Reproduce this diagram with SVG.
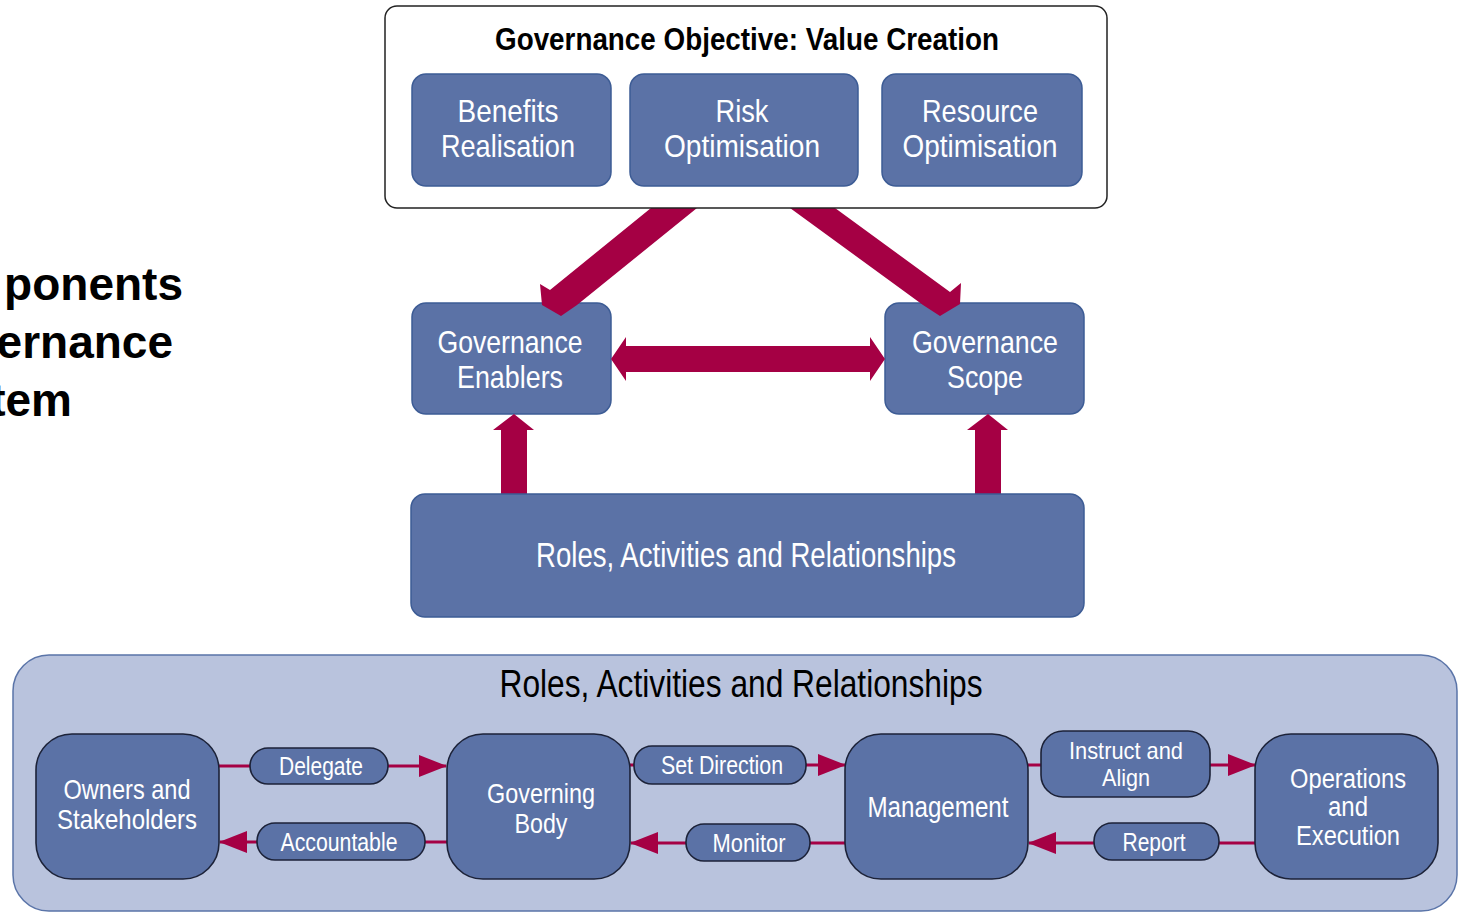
<svg xmlns="http://www.w3.org/2000/svg" width="1462" height="914" viewBox="0 0 1462 914">
<style>
.t{font-family:"Liberation Sans Narrow","Liberation Sans",Arial,sans-serif;text-anchor:middle}
.w{fill:#ffffff}
.k{fill:#000000}
.nodeTop{fill:#5b72a6;stroke:#3d5c95;stroke-width:1.5}
.nodeBot{fill:#5b72a6;stroke:#1c2238;stroke-width:1.6}
.fat{fill:#a50044}
.ln{stroke:#a50044;stroke-width:3;fill:none}
</style>
<defs>
<marker id="ah" markerUnits="userSpaceOnUse" markerWidth="28" markerHeight="24" refX="27" refY="11" orient="auto">
<path d="M0,0 L28,11 L0,22 z" fill="#a50044"/>
</marker>
</defs>
<rect width="1462" height="914" fill="#ffffff"/>

<g id="side-title" font-family="'Liberation Sans',Arial,sans-serif" font-weight="bold" font-size="46" text-anchor="end" fill="#000">
<text x="183" y="300">ponents</text>
<text x="173" y="358">ernance</text>
<text x="72" y="416">tem</text>
</g>

<g id="enablers">
<rect class="nodeTop" x="412" y="303" width="199" height="111" rx="14"/>
<text class="t w" x="510" y="353" font-size="32" textLength="145" lengthAdjust="spacingAndGlyphs">Governance</text>
<text class="t w" x="510" y="388" font-size="32" textLength="106" lengthAdjust="spacingAndGlyphs">Enablers</text>
</g>
<g id="scope">
<rect class="nodeTop" x="885" y="303" width="199" height="111" rx="14"/>
<text class="t w" x="985" y="353" font-size="32" textLength="146" lengthAdjust="spacingAndGlyphs">Governance</text>
<text class="t w" x="985" y="388" font-size="32" textLength="76" lengthAdjust="spacingAndGlyphs">Scope</text>
</g>

<g id="connectors">
<polygon class="fat" points="651,208 697,208 577,305 561,316 542,305 540,284 550,290"/>
<polygon class="fat" points="790,208 835,208 950,292 961,283 960,304 940,316 923,305"/>
<polygon class="fat" points="611,359 626,337 626,346 870,346 870,337 885,359 870,381 870,372 626,372 626,381"/>
<polygon class="fat" points="514,414 534,430 527,430 527,496 501,496 501,430 493,430"/>
<polygon class="fat" points="988,414 1008,430 1001,430 1001,496 975,496 975,430 967,430"/>
</g>

<g id="objective">
<rect x="385" y="6" width="722" height="202" rx="12" fill="#ffffff" stroke="#222" stroke-width="1.5"/>
<text class="t k" x="747" y="50" font-size="32" font-weight="bold" textLength="504" lengthAdjust="spacingAndGlyphs">Governance Objective:  Value Creation</text>
</g>
<g id="benefits">
<rect class="nodeTop" x="412" y="74" width="199" height="112" rx="14"/>
<text class="t w" x="508" y="122" font-size="32" textLength="101" lengthAdjust="spacingAndGlyphs">Benefits</text>
<text class="t w" x="508" y="157" font-size="32" textLength="134" lengthAdjust="spacingAndGlyphs">Realisation</text>
</g>
<g id="risk">
<rect class="nodeTop" x="630" y="74" width="228" height="112" rx="14"/>
<text class="t w" x="742" y="122" font-size="32" textLength="53" lengthAdjust="spacingAndGlyphs">Risk</text>
<text class="t w" x="742" y="157" font-size="32" textLength="156" lengthAdjust="spacingAndGlyphs">Optimisation</text>
</g>
<g id="resource">
<rect class="nodeTop" x="882" y="74" width="200" height="112" rx="14"/>
<text class="t w" x="980" y="122" font-size="32" textLength="116" lengthAdjust="spacingAndGlyphs">Resource</text>
<text class="t w" x="980" y="157" font-size="32" textLength="155" lengthAdjust="spacingAndGlyphs">Optimisation</text>
</g>
<g id="roles">
<rect class="nodeTop" x="411" y="494" width="673" height="123" rx="14"/>
<text class="t w" x="746" y="567" font-size="35" textLength="420" lengthAdjust="spacingAndGlyphs">Roles, Activities and Relationships</text>
</g>

<g id="panel">
<rect x="13" y="655" width="1444" height="256" rx="36" fill="#b9c3dd" stroke="#5a74a8" stroke-width="1.5"/>
<text class="t k" x="741" y="697" font-size="39" textLength="483" lengthAdjust="spacingAndGlyphs">Roles, Activities and Relationships</text>
</g>

<g id="bottom-connectors">
<line class="ln" x1="219" y1="766" x2="252" y2="766"/>
<line class="ln" x1="386" y1="766" x2="446" y2="766" marker-end="url(#ah)"/>
<line class="ln" x1="447" y1="842" x2="423" y2="842"/>
<line class="ln" x1="259" y1="842" x2="220" y2="842" marker-end="url(#ah)"/>
<line class="ln" x1="630" y1="765" x2="636" y2="765"/>
<line class="ln" x1="804" y1="765" x2="845" y2="765" marker-end="url(#ah)"/>
<line class="ln" x1="845" y1="843" x2="808" y2="843"/>
<line class="ln" x1="688" y1="843" x2="631" y2="843" marker-end="url(#ah)"/>
<line class="ln" x1="1028" y1="765" x2="1043" y2="765"/>
<line class="ln" x1="1208" y1="765" x2="1255" y2="765" marker-end="url(#ah)"/>
<line class="ln" x1="1255" y1="843" x2="1217" y2="843"/>
<line class="ln" x1="1096" y1="843" x2="1029" y2="843" marker-end="url(#ah)"/>
</g>

<g id="owners">
<rect class="nodeBot" x="36" y="734" width="183" height="145" rx="36"/>
<text class="t w" x="127" y="799" font-size="28" textLength="127" lengthAdjust="spacingAndGlyphs">Owners and</text>
<text class="t w" x="127" y="829" font-size="28" textLength="140" lengthAdjust="spacingAndGlyphs">Stakeholders</text>
</g>
<g id="governing">
<rect class="nodeBot" x="447" y="734" width="183" height="145" rx="36"/>
<text class="t w" x="541" y="803" font-size="28" textLength="108" lengthAdjust="spacingAndGlyphs">Governing</text>
<text class="t w" x="541" y="833" font-size="28" textLength="53" lengthAdjust="spacingAndGlyphs">Body</text>
</g>
<g id="management">
<rect class="nodeBot" x="845" y="734" width="183" height="145" rx="36"/>
<text class="t w" x="938" y="817" font-size="29" textLength="141" lengthAdjust="spacingAndGlyphs">Management</text>
</g>
<g id="operations">
<rect class="nodeBot" x="1255" y="734" width="183" height="145" rx="36"/>
<text class="t w" x="1348" y="788" font-size="27" textLength="116" lengthAdjust="spacingAndGlyphs">Operations</text>
<text class="t w" x="1348" y="816" font-size="27" textLength="40" lengthAdjust="spacingAndGlyphs">and</text>
<text class="t w" x="1348" y="845" font-size="27" textLength="104" lengthAdjust="spacingAndGlyphs">Execution</text>
</g>

<g id="delegate">
<rect class="nodeBot" x="250" y="748" width="138" height="36" rx="18"/>
<text class="t w" x="321" y="775" font-size="25" textLength="84" lengthAdjust="spacingAndGlyphs">Delegate</text>
</g>
<g id="accountable">
<rect class="nodeBot" x="257" y="823" width="168" height="37" rx="18"/>
<text class="t w" x="339" y="851" font-size="25" textLength="117" lengthAdjust="spacingAndGlyphs">Accountable</text>
</g>
<g id="setdirection">
<rect class="nodeBot" x="634" y="746" width="172" height="38" rx="18"/>
<text class="t w" x="722" y="774" font-size="25" textLength="122" lengthAdjust="spacingAndGlyphs">Set Direction</text>
</g>
<g id="monitor">
<rect class="nodeBot" x="686" y="824" width="124" height="37" rx="18"/>
<text class="t w" x="749" y="852" font-size="25" textLength="73" lengthAdjust="spacingAndGlyphs">Monitor</text>
</g>
<g id="instruct">
<rect class="nodeBot" x="1041" y="731" width="169" height="66" rx="22"/>
<text class="t w" x="1126" y="759" font-size="24" textLength="114" lengthAdjust="spacingAndGlyphs">Instruct and</text>
<text class="t w" x="1126" y="786" font-size="24" textLength="48" lengthAdjust="spacingAndGlyphs">Align</text>
</g>
<g id="report">
<rect class="nodeBot" x="1094" y="823" width="125" height="37" rx="18"/>
<text class="t w" x="1154" y="851" font-size="25" textLength="63" lengthAdjust="spacingAndGlyphs">Report</text>
</g>
</svg>
